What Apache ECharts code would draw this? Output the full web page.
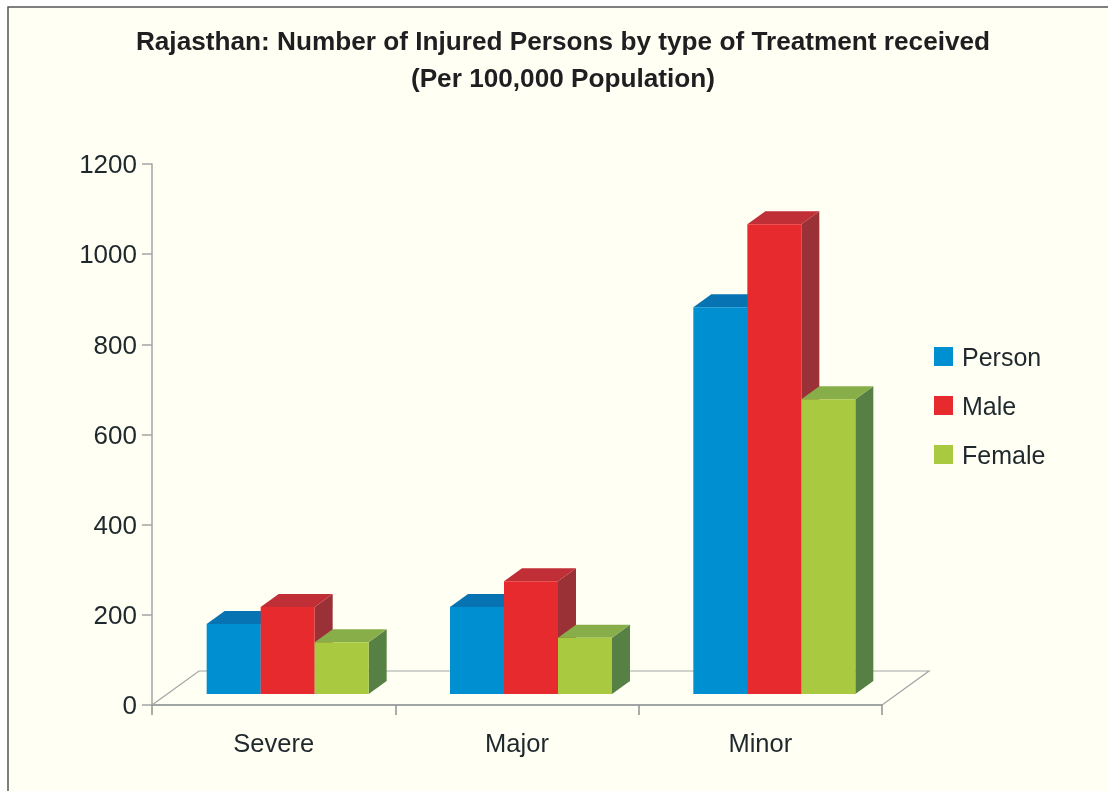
<!DOCTYPE html>
<html>
<head>
<meta charset="utf-8">
<style>
  html, body { margin: 0; padding: 0; background: #fff; }
  #chart { width: 1108px; height: 791px; }
</style>
<script src="https://cdn.jsdelivr.net/npm/echarts@6/dist/echarts.min.js"></script>
</head>
<body>
<div id="chart"></div>
<script>
const categories = ['Severe', 'Major', 'Minor'];
const personValues = [155, 193, 858];
const maleValues = [193, 250, 1042];
const femaleValues = [115, 125, 654];
const yTicks = [0, 200, 400, 600, 800, 1000, 1200];

const fontName = '"Liberation Sans", Arial, sans-serif';
const textColor = '#1f282d';
const axisColor = '#a2a5a5';

// pretend 3d, echarts has no depth on plain bars
const depthX = 18;
const depthY = 13;
const baseLift = 11; // front faces stand a bit behind the axis line
const barWidth = 54;
const floorX = 47;
const floorY = 34;

function box3d(slot, colors) {
  return function (params, api) {
    let zero = api.coord([api.value(0), 0]);
    let h = api.size([0, api.value(1)])[1];
    let x = zero[0] + 14 + slot * barWidth - barWidth / 2;
    let bottom = zero[1] - baseLift;
    let top = bottom - h;
    let right = x + barWidth;
    return {
      type: 'group',
      children: [
        {
          type: 'polygon',
          shape: { points: [[right, top], [right + depthX, top - depthY], [right + depthX, bottom - depthY], [right, bottom]] },
          style: { fill: colors.side }
        },
        {
          type: 'polygon',
          shape: { points: [[x, top], [x + depthX, top - depthY], [right + depthX, top - depthY], [right, top]] },
          style: { fill: colors.top }
        },
        {
          type: 'rect',
          shape: { x: x, y: top, width: barWidth, height: h },
          style: { fill: colors.front }
        }
      ]
    };
  };
}

function floor(params) {
  let c = params.coordSys;
  let y0 = c.y + c.height;
  return {
    type: 'polyline',
    shape: {
      points: [[c.x, y0], [c.x + floorX, y0 - floorY], [c.x + c.width + floorX, y0 - floorY], [c.x + c.width, y0]]
    },
    style: { fill: null, stroke: axisColor, lineWidth: 1.2 }
  };
}

function barSeries(name, values, slot, colors) {
  return {
    name: name,
    type: 'custom',
    clip: false,
    itemStyle: { color: colors.front },
    renderItem: box3d(slot, colors),
    encode: { x: 0, y: 1 },
    data: values.map((v, i) => [i, v])
  };
}

const myChart = echarts.init(document.getElementById('chart'));
myChart.setOption({
  animation: false,
  backgroundColor: '#fff',
  graphic: [
    {
      type: 'rect',
      z: -10,
      silent: true,
      // page frame, right and bottom run off the picture
      shape: { x: 8, y: 7, width: 1120, height: 800 },
      style: { fill: '#fffff3', stroke: '#555', lineWidth: 1.5 }
    }
  ],
  title: {
    text: 'Rajasthan: Number of Injured Persons by type of Treatment received\n(Per 100,000 Population)',
    left: 558,
    top: 19,
    textAlign: 'center',
    textStyle: {
      fontFamily: fontName,
      fontSize: 26.2,
      fontWeight: 'bold',
      color: '#1f1f22',
      lineHeight: 37
    }
  },
  legend: {
    orient: 'vertical',
    left: 929,
    top: 342,
    icon: 'rect',
    itemWidth: 19,
    itemHeight: 19,
    itemGap: 24,
    data: ['Person', 'Male', 'Female'],
    formatter: (name) => `{t|${name}}`,
    textStyle: {
      rich: {
        // text sits a little lower than the swatch in the original
        t: { fontFamily: fontName, fontSize: 25, color: textColor, padding: [6, 0, 0, 4] }
      }
    }
  },
  grid: { left: 152, right: 226, top: 164, bottom: 86 },
  xAxis: {
    type: 'category',
    data: categories,
    axisLine: { lineStyle: { color: axisColor, width: 2 } },
    axisTick: { show: true, length: 10, lineStyle: { color: '#8f9393', width: 1.5 } },
    axisLabel: { fontFamily: fontName, fontSize: 25.5, color: textColor, margin: 27 }
  },
  yAxis: {
    type: 'value',
    min: yTicks[0],
    max: yTicks[yTicks.length - 1],
    interval: 200,
    splitLine: { show: false },
    axisLine: { show: true, lineStyle: { color: axisColor, width: 1.5 } },
    axisTick: { show: true, length: 10, lineStyle: { color: axisColor, width: 1.5 } },
    axisLabel: {
      margin: 15,
      formatter: (value) => `{v|${value}}`,
      rich: {
        v: { fontFamily: fontName, fontSize: 26, color: textColor, padding: [4, 0, 0, 0] }
      }
    }
  },
  series: [
    {
      type: 'custom',
      clip: false,
      silent: true,
      renderItem: floor,
      data: [[0, 0]]
    },
    barSeries('Person', personValues, -1, { front: '#008fd0', top: '#0873b3', side: '#0a5f90' }),
    barSeries('Male', maleValues, 0, { front: '#e62a2d', top: '#c02f36', side: '#9a3137' }),
    barSeries('Female', femaleValues, 1, { front: '#a9ca40', top: '#88ae4a', side: '#578045' })
  ]
});
</script>
</body>
</html>
